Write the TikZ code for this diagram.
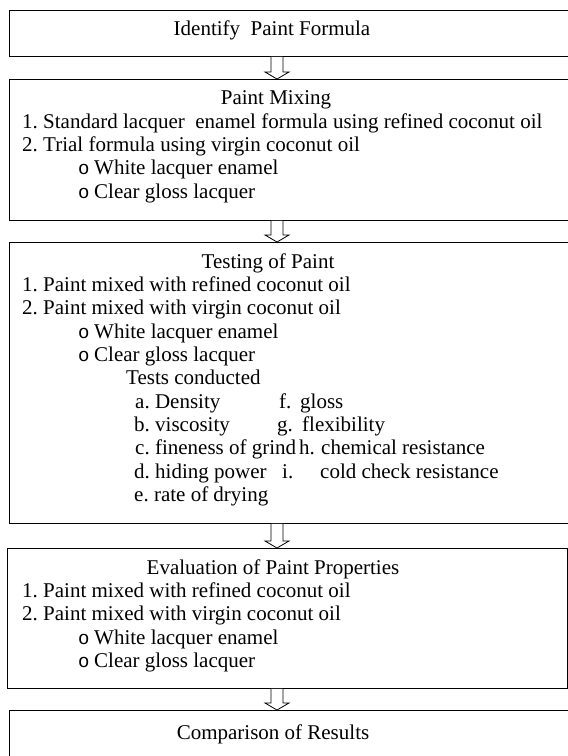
\documentclass[tikz,border=0pt]{standalone}
\usepackage{fontspec}
\setmainfont{Liberation Serif}
\newfontfamily\bulfont{Liberation Mono}
\usetikzlibrary{calc}
\newcommand\hollowarrow[2]{%
  \draw[blk] let \p1=(#1.south), \p2=(#2.north) in
    (271pt,\y1) -- (271pt,\y2+7pt) -- (265pt,\y2+7pt) -- (277pt,\y2)
    -- (289pt,\y2+7pt) -- (283pt,\y2+7pt) -- (283pt,\y1);}
\newcommand\lbl[2]{\makebox[#1pt][l]{#2}}
\newcommand\bul{\makebox[14pt][l]{\hspace{-2pt}{\fontsize{19}{19}\bulfont o}}}
\begin{document}
\frenchspacing
\begin{tikzpicture}[x=1pt,y=-1pt,
  box/.style={draw=black,line width=0.9pt,rectangle,inner sep=0pt,anchor=north west},
  txt/.style={inner sep=0pt,anchor=mid west,font=\fontsize{21}{23.3}\selectfont},
  ctxt/.style={inner sep=0pt,anchor=mid,font=\fontsize{21}{23.3}\selectfont},
  blk/.style={draw=black,line width=0.8pt,fill=white,line join=miter}]
\clip (0,0) rectangle (568,756);
\fill[white] (0,0) rectangle (568,756);
% boxes
\node[box,minimum width=566pt,minimum height=46pt] (b1) at (9,10) {};
\node[box,minimum width=566pt,minimum height=141pt] (b2) at (9,79) {};
\node[box,minimum width=566pt,minimum height=281pt] (b3) at (9,242) {};
\node[box,minimum width=560pt,minimum height=140pt] (b4) at (7,548) {};
\node[box,minimum width=566pt,minimum height=80pt] (b5) at (9,710) {};
% arrows
\hollowarrow{b1}{b2}
\hollowarrow{b2}{b3}
\hollowarrow{b3}{b4}
\hollowarrow{b4}{b5}
% box 1
\node[ctxt] (t1) at (272,33) {Identify\ \ Paint Formula};
% box 2
\node[ctxt] (t2) at (276,102.7) {Paint Mixing};
\node[txt] (t2a) at (22,126) {1. Standard lacquer\ \ enamel formula using refined coconut oil};
\node[txt] (t2b) at (22,149.3) {2. Trial formula using virgin coconut oil};
\node[txt] (t2c) at (80,172.7) {\bul White lacquer enamel};
\node[txt] (t2d) at (80,196) {\bul Clear gloss lacquer};
% box 3
\node[ctxt] (t3) at (268,265.7) {Testing of Paint};
\node[txt] (t3a) at (22,289) {1. Paint mixed with refined coconut oil};
\node[txt] (t3b) at (22,312.3) {2. Paint mixed with virgin coconut oil};
\node[txt] (t3c) at (80,335.7) {\bul White lacquer enamel};
\node[txt] (t3d) at (80,359) {\bul Clear gloss lacquer};
\node[txt] (t3e) at (126,382.3) {Tests conducted};
\node[txt] (ta) at (135,405.7) {a. Density};
\node[txt] (tb) at (134,429) {b. viscosity};
\node[txt] (tc) at (135,452.3) {c. fineness of grind};
\node[txt] (td) at (134,475.7) {d. hiding power};
\node[txt] (te) at (134,499) {e. rate of drying};
\node[txt] (tf) at (279,405.7) {\lbl{21}{f.}gloss};
\node[txt] (tg) at (277,429) {\lbl{25}{g.}flexibility};
\node[txt] (th) at (299,452.3) {\lbl{22}{h.}chemical resistance};
\node[txt] (ti) at (282,475.7) {\lbl{38}{i.}cold check resistance};
% box 4
\node[ctxt] (t4) at (273,571.7) {Evaluation of Paint Properties};
\node[txt] (t4a) at (22,595) {1. Paint mixed with refined coconut oil};
\node[txt] (t4b) at (22,618.3) {2. Paint mixed with virgin coconut oil};
\node[txt] (t4c) at (80,641.7) {\bul White lacquer enamel};
\node[txt] (t4d) at (80,665) {\bul Clear gloss lacquer};
% box 5
\node[ctxt] (t5) at (273,737) {Comparison of Results};
\end{tikzpicture}
\end{document}
